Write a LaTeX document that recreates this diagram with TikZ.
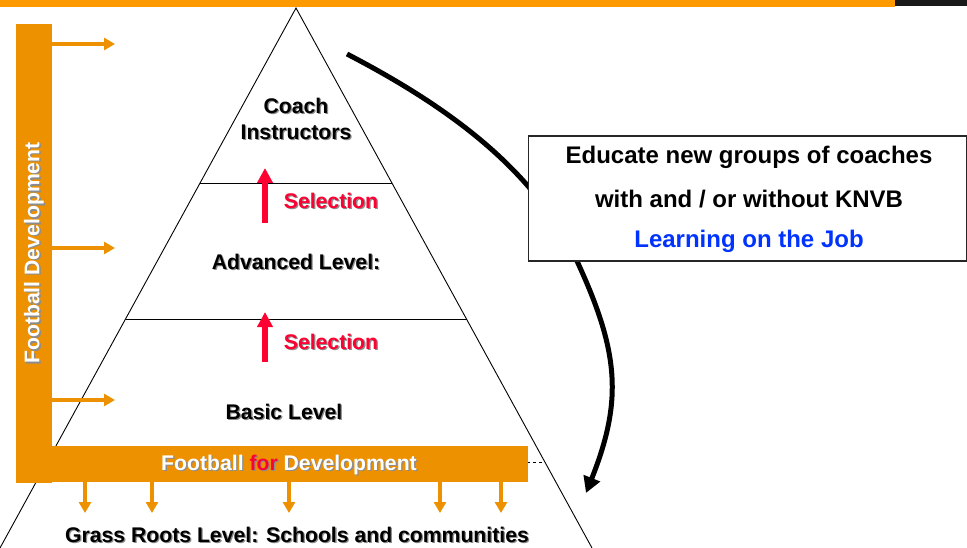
\documentclass[tikz,border=0pt]{standalone}
\usepackage{fontspec}
\setmainfont{Liberation Sans}
\usetikzlibrary{arrows.meta,calc}
\definecolor{barorange}{RGB}{238,145,0}
\definecolor{toporange}{RGB}{255,153,0}
\definecolor{selred}{RGB}{255,0,51}
\definecolor{jobblue}{RGB}{0,51,255}
\newcommand\hl[1]{\textcolor{selred}{#1}}
\newcommand\shtext[4][]{%
  \node[lbl,#1,text=black!45] at ($(#3)+(1.3,1.3)$) {\let\hl\relax #4};
  \node[lbl,#1] (#2) at (#3) {#4};}
\begin{document}
\begin{tikzpicture}[x=1pt,y=-1pt,
  lbl/.style={font=\fontsize{21.2}{26}\selectfont\bfseries, inner sep=0pt, align=center},
  boxtxt/.style={font=\fontsize{24}{28}\selectfont\bfseries, inner sep=0pt},
  pyrline/.style={line width=0.9pt},
  orangearrow/.style={barorange, line width=4pt, -{Triangle[width=12pt,length=11pt]}},
  redarrow/.style={selred, line width=5.5pt, -{Triangle[width=15pt,length=15pt]}},
  bigarrow/.style={line width=5pt, -{Triangle[width=17pt,length=16pt]}}]
\useasboundingbox (0,0) rectangle (967,548);
% top strip
\fill[toporange] (0,0) rectangle (895,7);
\fill[black!90] (895,0) rectangle (967,6);
% pyramid
\coordinate (apex) at (296,8);
\coordinate (bl) at (0,548);
\coordinate (br) at (592,548);
\draw[pyrline] (bl) -- (apex) -- (br);
\draw[pyrline] ($(apex)!0.324!(bl)$) -- ($(apex)!0.324!(br)$);
\draw[pyrline] ($(apex)!0.576!(bl)$) -- ($(apex)!0.576!(br)$);
\draw[pyrline,dashed] ($(apex)!0.8407!(bl)$) -- ($(apex)!0.8407!(br)$);
% level texts
\shtext{coach}{296,119}{Coach\\Instructors}
\shtext{adv}{296,262}{Advanced Level:}
\shtext{basic}{284,412}{Basic Level}
\shtext{grass}{297,535}{Grass Roots Level: Schools and communities}
\shtext[text=selred]{sel1}{331,201}{Selection}
\shtext[text=selred]{sel2}{331,342}{Selection}
% red selection arrows
\coordinate (r1a) at (265,223); \coordinate (r1b) at (265,168);
\coordinate (r2a) at (265,362); \coordinate (r2b) at (265,312);
\draw[redarrow] (r1a) -- (r1b);
\draw[redarrow] (r2a) -- (r2b);
% big curved arrow
\coordinate (cs) at (347,54);
\coordinate (cm) at (577,261);
\coordinate (ce) at (586,493);
\draw[bigarrow] (cs) .. controls (449,107) and (535,170) .. (cm)
                     .. controls (619,352) and (623,400) .. (ce);
% box
\node (box) [draw=black!85, fill=white, line width=1.2pt, minimum width=438pt, minimum height=125pt, anchor=north west, inner sep=0pt] at (527.5,135.5) {};
\node[boxtxt] (t1) at (749,157) {Educate new groups of coaches};
\node[boxtxt] (t2) at (749,199) {with and / or without KNVB};
\node[boxtxt, text=jobblue] (t3) at (749,241) {Learning on the Job};
% orange bars
\fill[barorange] (16,24) rectangle (52,483);
\fill[barorange] (16,446) rectangle (528,482);
\shtext[text=white, rotate=90]{fd}{34,253}{Football Development}
\shtext[text=white]{ffd}{289,465}{Football \hl{for} Development}
% orange arrows from the vertical bar
\foreach \y [count=\i] in {44,248,400}{
  \coordinate (la\i) at (52,\y); \coordinate (lb\i) at (115,\y);
  \draw[orangearrow] (la\i) -- (lb\i);}
% orange arrows down from the bottom bar
\foreach \x [count=\i] in {85,152,289,440,501}{
  \coordinate (da\i) at (\x,482); \coordinate (db\i) at (\x,513);
  \draw[orangearrow] (da\i) -- (db\i);}
\end{tikzpicture}
\end{document}
